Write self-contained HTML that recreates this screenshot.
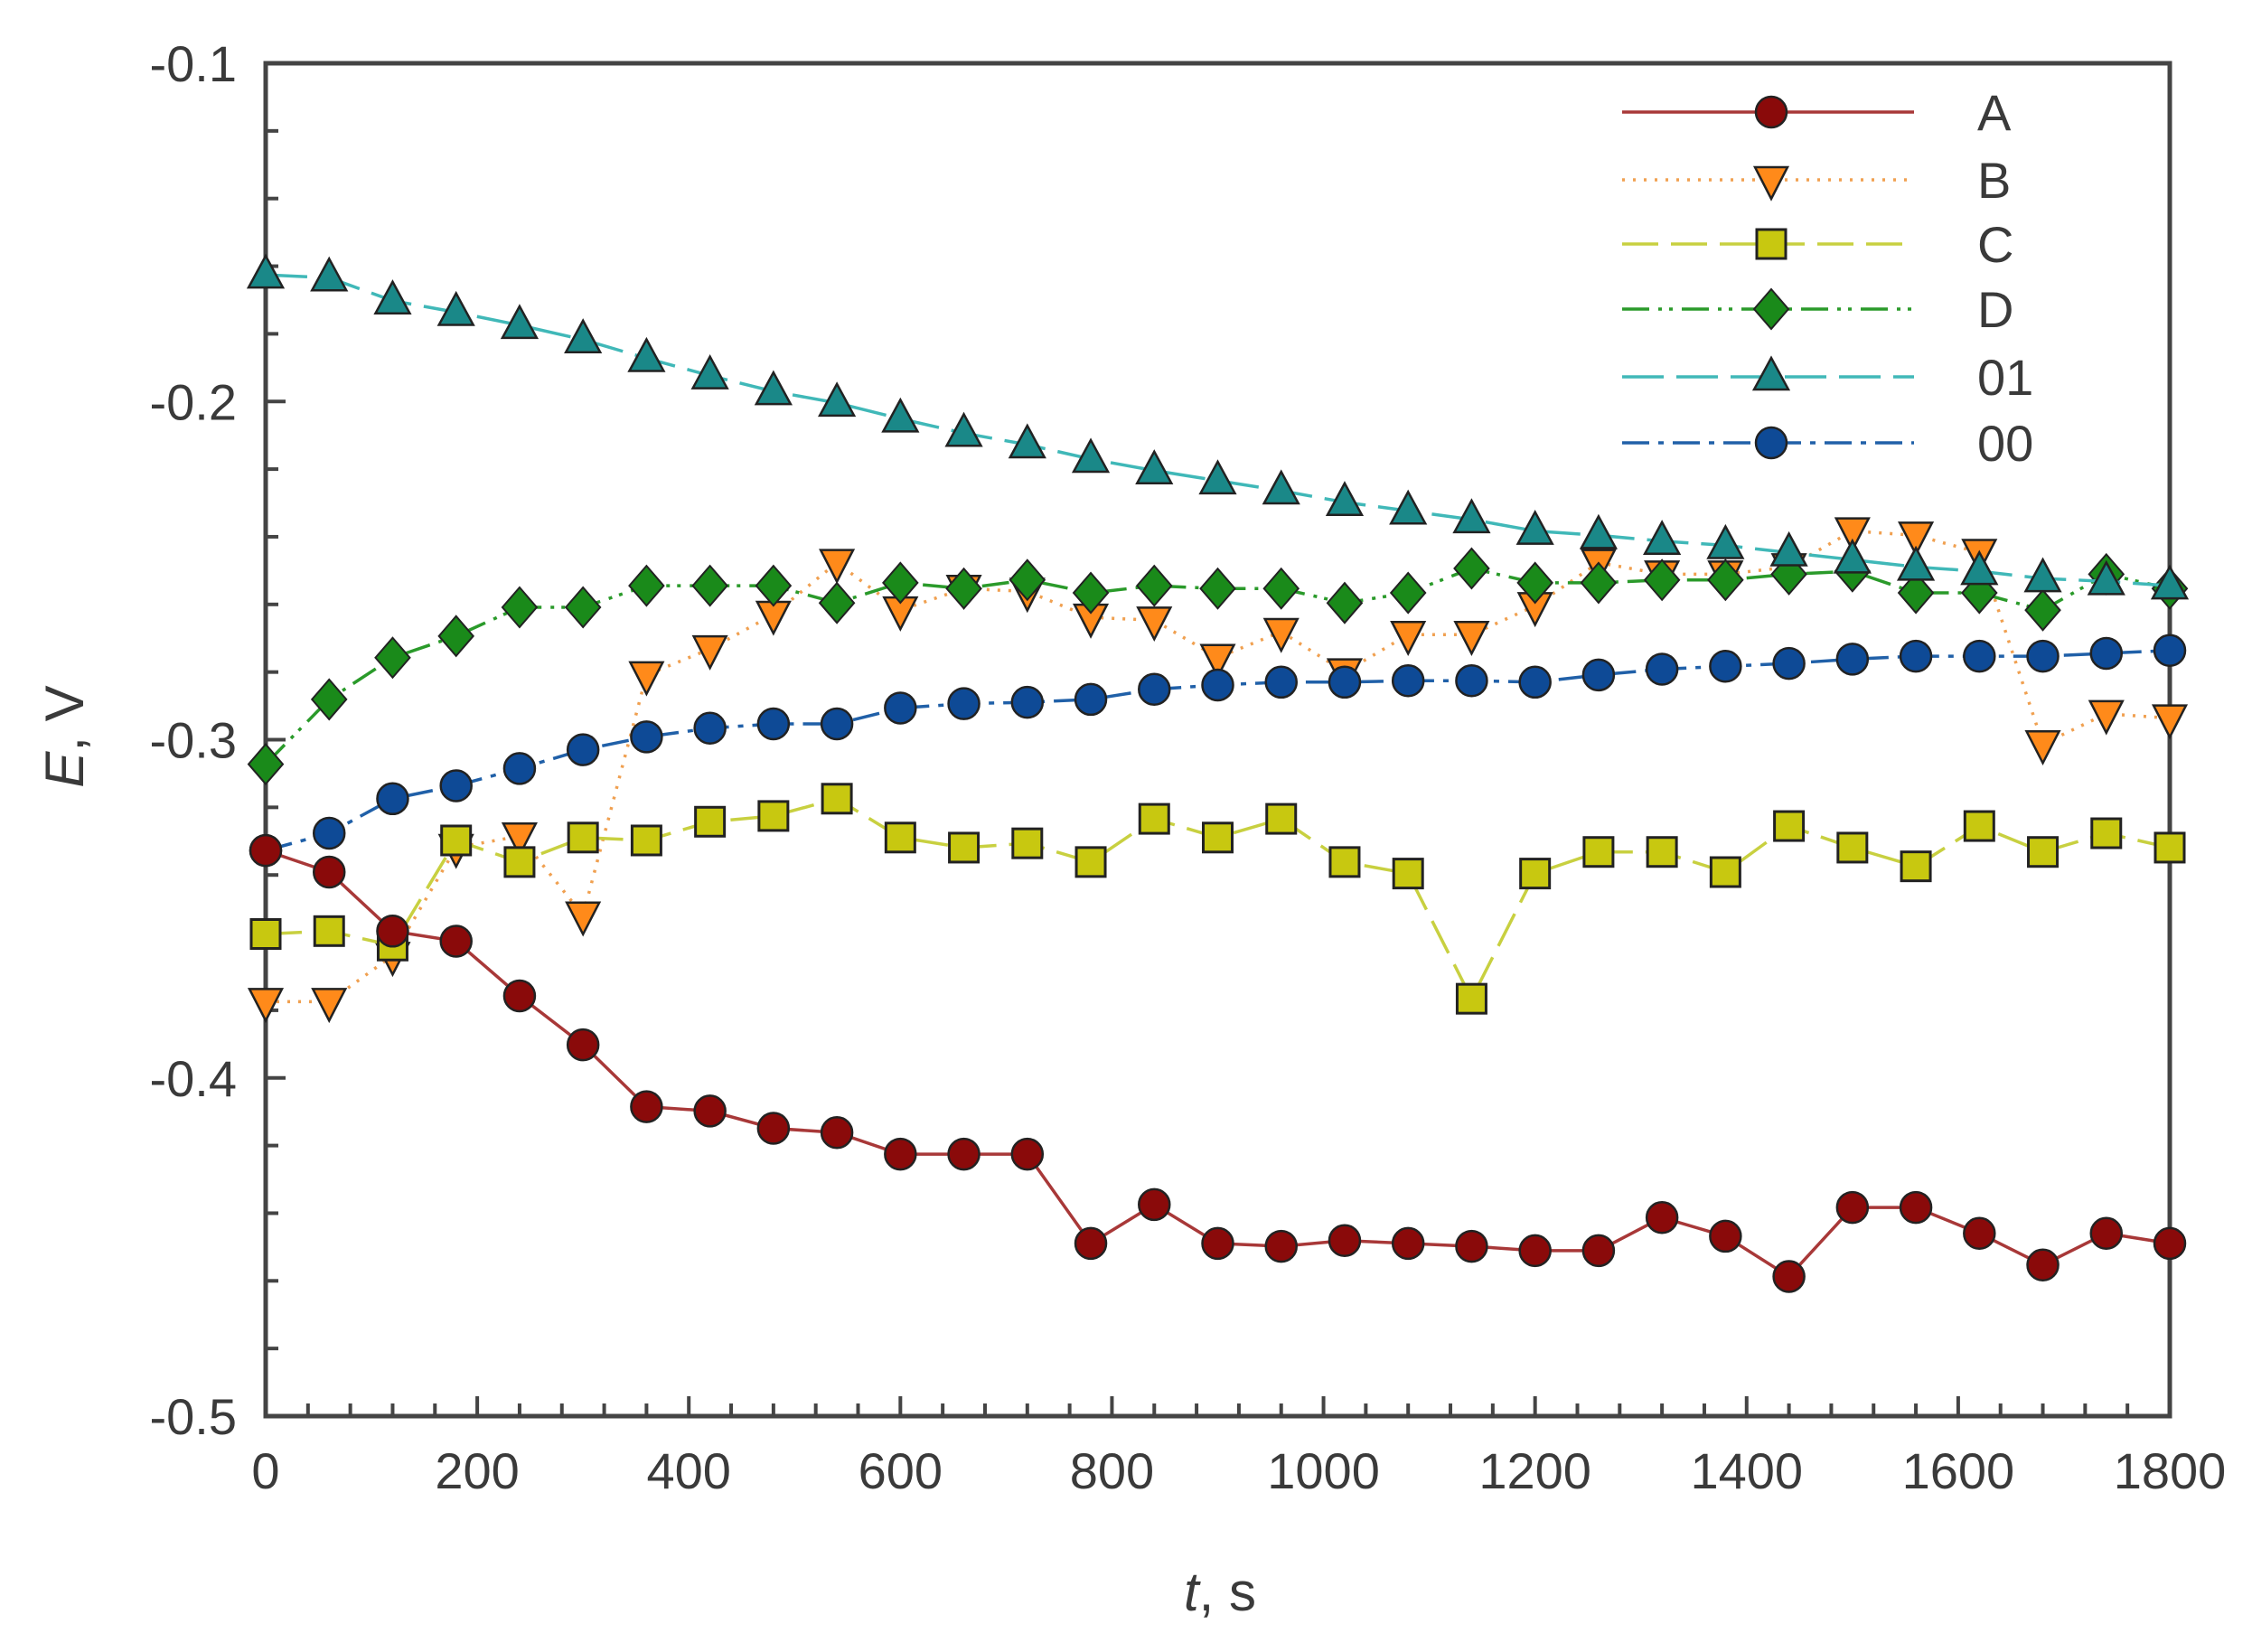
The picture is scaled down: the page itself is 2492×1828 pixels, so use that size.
<!DOCTYPE html>
<html><head><meta charset="utf-8"><style>
html,body{margin:0;padding:0;background:#fff;}
svg{display:block;}
text{font-family:"Liberation Sans",sans-serif;fill:#3a3a3a;}
</style></head><body>
<svg id="s" width="2492" height="1828" xmlns="http://www.w3.org/2000/svg"></svg>
<script>
const S=document.getElementById('s');
const L=294,R=2401,T=70,B=1567;
const X=t=>L+t/1800*(R-L);
const Yd=yd=>T+(yd-45)*(B-T)/940;
let h='';
h+=`<rect x="${L}" y="${T}" width="${R-L}" height="${B-T}" fill="none" stroke="#444" stroke-width="5"/>`;
for(let i=0;i<=20;i++){const y=T+i*(B-T)/20;const len=i%5==0?22:14;
 h+=`<line x1="${L}" x2="${L+len}" y1="${y}" y2="${y}" stroke="#444" stroke-width="4"/>`;}
for(let i=0;i<=45;i++){const x=L+i*(R-L)/45;const len=i%5==0?22:14;
 h+=`<line x1="${x}" x2="${x}" y1="${B}" y2="${B-len}" stroke="#444" stroke-width="4"/>`;}
['-0.1','-0.2','-0.3','-0.4','-0.5'].forEach((v,i)=>{const y=T+i*(B-T)/4;
 h+=`<text x="262" y="${y+20}" font-size="56" text-anchor="end">${v}</text>`;});
for(let i=0;i<=9;i++){h+=`<text x="${X(i*200)}" y="${B+80}" font-size="56" text-anchor="middle">${i*200}</text>`;}
h+=`<text transform="translate(92,815) rotate(-90)" font-size="60" text-anchor="middle"><tspan font-style="italic">E</tspan>, V</text>`;
h+=`<text x="1350" y="1782" font-size="60" text-anchor="middle"><tspan font-style="italic">t</tspan>, s</text>`;
const data={
A:[592,607,648,655,693,727,770,773,785,788,803,803,803,865,838,865,867,863,865,867,870,870,847,860,888,840,840,858,880,858,865],
B:[697,697,665,590,582,637,470,452,428,392,425,410,412,430,432,458,440,468,442,442,422,392,400,400,395,370,373,385,518,497,500],
C:[650,648,658,585,600,583,585,572,568,556,583,590,587,600,570,583,570,600,608,695,608,593,593,607,575,590,603,575,593,580,590],
D:[532,487,458,443,423,423,408,408,408,420,406,410,404,413,408,410,410,420,413,396,406,406,404,404,400,398,413,413,425,400,410],
O1:[192,194,210,218,227,237,250,262,273,281,292,302,310,320,328,335,342,350,356,362,370,373,377,380,385,390,395,398,403,405,408],
O0:[592,580,556,547,535,522,513,507,504,504,493,490,489,487,480,477,475,475,474,474,475,470,466,464,462,459,457,457,457,455,453]};
const st={
A:{line:'#a83838',dash:'',fill:'#8a0a0a',m:'c'},
B:{line:'#f0a050',dash:'3 9',fill:'#ff8a1a',m:'v'},
C:{line:'#c8d040',dash:'40 14',fill:'#c8c810',m:'s'},
D:{line:'#2a9a2a',dash:'30 10 4 8 4 10',fill:'#1a8a1a',m:'d'},
O1:{line:'#40b8b8',dash:'46 14',fill:'#1a8888',m:'t'},
O0:{line:'#2060a8',dash:'30 10 6 10',fill:'#0e4a96',m:'c'}};
function mk(m,x,y,f){const r=17;
 if(m=='c')return `<circle cx="${x}" cy="${y}" r="${r}" fill="${f}" stroke="#222" stroke-width="2.5"/>`;
 if(m=='s')return `<rect x="${x-16}" y="${y-16}" width="32" height="32" fill="${f}" stroke="#222" stroke-width="3"/>`;
 if(m=='d')return `<polygon points="${x},${y-22} ${x+19},${y} ${x},${y+22} ${x-19},${y}" fill="${f}" stroke="#222" stroke-width="2"/>`;
 if(m=='t')return `<polygon points="${x},${y-21} ${x+19},${y+14} ${x-19},${y+14}" fill="${f}" stroke="#222" stroke-width="2.5"/>`;
 if(m=='v')return `<polygon points="${x-18},${y-14} ${x+18},${y-14} ${x},${y+21}" fill="${f}" stroke="#222" stroke-width="2.5"/>`;}
const order=['B','C','D','O1','O0','A'];
order.forEach(k=>{const s=st[k];const p=data[k].map((v,i)=>X(i*60)+','+Yd(v)).join(' ');
 h+=`<polyline points="${p}" fill="none" stroke="${s.line}" stroke-width="3.5" ${s.dash?`stroke-dasharray="${s.dash}"`:''}/>`;
 data[k].forEach((v,i)=>{h+=mk(s.m,X(i*60),Yd(v),s.fill);});});
const leg=[['A',124,'A'],['B',199,'B'],['C',270,'C'],['D',342,'D'],['O1',417,'01'],['O0',490,'00']];
leg.forEach(([k,y,lab])=>{const s=st[k];
 h+=`<line x1="1795" x2="2118" y1="${y}" y2="${y}" stroke="${s.line}" stroke-width="3.5" ${s.dash?`stroke-dasharray="${s.dash}"`:''}/>`;
 h+=mk(s.m,1960,y,s.fill);
 h+=`<text x="2188" y="${y+20}" font-size="56">${lab}</text>`;});
S.innerHTML=h;
</script>
</body></html>
